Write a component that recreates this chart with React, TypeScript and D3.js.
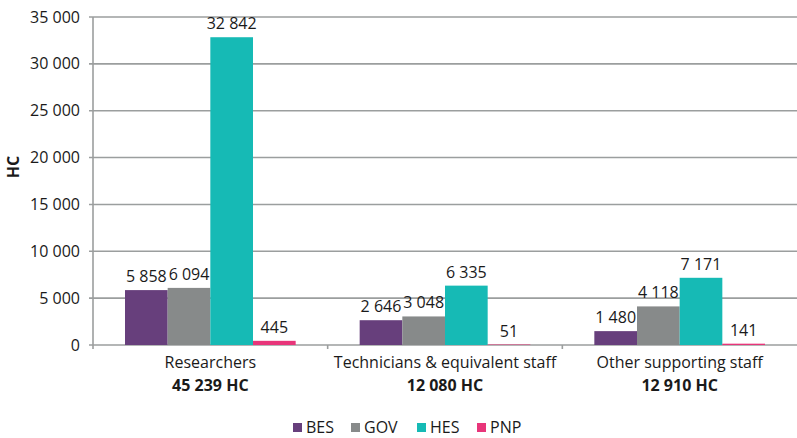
import React from "react";
import * as d3 from "d3";

const categories = ["Researchers", "Technicians & equivalent staff", "Other supporting staff"];
const totals = ["45 239 HC", "12 080 HC", "12 910 HC"];
const seriesNames = ["BES", "GOV", "HES", "PNP"];
const BES = [5858, 2646, 1480];
const GOV = [6094, 3048, 4118];
const HES = [32842, 6335, 7171];
const PNP = [445, 51, 141];
const yTicks = [0, 5000, 10000, 15000, 20000, 25000, 30000, 35000];
const colors = ["#673f7c", "#878a8a", "#16bab5", "#e8357a"];

const seriesValues = [BES, GOV, HES, PNP];

const W = 797;
const H = 438;
const left = 93;
const right = 797;
const top = 17;
const bottom = 345;
const FONT = "'Open Sans', sans-serif";

const locale = d3.formatLocale({ decimal: ".", thousands: " ", grouping: [3], currency: ["", ""] });
const fmt = locale.format(",d");

export default function App() {
  const y = d3.scaleLinear().domain([0, 35000]).range([bottom, top]);
  const x0 = d3.scaleBand<string>().domain(categories).range([left, right]).padding(0);
  const x1 = d3
    .scaleBand<string>()
    .domain(seriesNames)
    .range([0, x0.bandwidth()])
    .paddingInner(0)
    .paddingOuter(0.75);

  const legendX = [293, 351, 417, 477];
  const gridColor = "#9b9e9e";

  return (
    <svg
      width={W}
      height={H}
      style={{ position: "absolute", left: 0, top: 0, display: "block", background: "#fff" }}
      fontFamily={FONT}
    >
      {/* gridlines */}
      {yTicks.map((t) => (
        <g key={t}>
          <line x1={left - 4} x2={right} y1={y(t)} y2={y(t)} stroke={gridColor} strokeWidth={1.6} />
          <text x={80} y={y(t)} dy="0.35em" textAnchor="end" fontSize={16} fill="#1a1a1a">
            {fmt(t)}
          </text>
        </g>
      ))}
      {/* y axis line */}
      <line x1={left} x2={left} y1={top} y2={bottom + 4} stroke={gridColor} strokeWidth={1.6} />
      {/* category separators */}
      {categories.slice(1).map((c) => (
        <line key={c} x1={x0(c)!} x2={x0(c)!} y1={bottom} y2={bottom + 4} stroke={gridColor} strokeWidth={1.6} />
      ))}
      {/* bars */}
      {categories.map((c, ci) => (
        <g key={c} transform={`translate(${x0(c)},0)`}>
          {seriesNames.map((s, si) => {
            const v = seriesValues[si][ci];
            const bx = x1(s)!;
            const by = y(v);
            return (
              <g key={s}>
                <rect x={bx} y={by} width={x1.bandwidth()} height={bottom - by} fill={colors[si]} />
                <text
                  x={bx + x1.bandwidth() / 2}
                  y={by - 8}
                  textAnchor="middle"
                  fontSize={16}
                  fill="#1a1a1a"
                >
                  {fmt(v)}
                </text>
              </g>
            );
          })}
        </g>
      ))}
      {/* category labels */}
      {categories.map((c, ci) => (
        <g key={c}>
          <text x={x0(c)! + x0.bandwidth() / 2} y={368} textAnchor="middle" fontSize={16} fill="#1a1a1a">
            {c}
          </text>
          <text
            x={x0(c)! + x0.bandwidth() / 2}
            y={391}
            textAnchor="middle"
            fontSize={16}
            fontWeight="bold"
            fill="#1a1a1a"
          >
            {totals[ci]}
          </text>
        </g>
      ))}
      {/* y axis title */}
      <text
        transform={`translate(19,167) rotate(-90)`}
        textAnchor="middle"
        fontSize={16}
        fontWeight="bold"
        fill="#1a1a1a"
      >
        HC
      </text>
      {/* legend */}
      {seriesNames.map((s, i) => (
        <g key={s} transform={`translate(${legendX[i]},0)`}>
          <rect x={0} y={423} width={9} height={9} fill={colors[i]} />
          <text x={13} y={433} fontSize={16} fill="#1a1a1a">
            {s}
          </text>
        </g>
      ))}
    </svg>
  );
}
